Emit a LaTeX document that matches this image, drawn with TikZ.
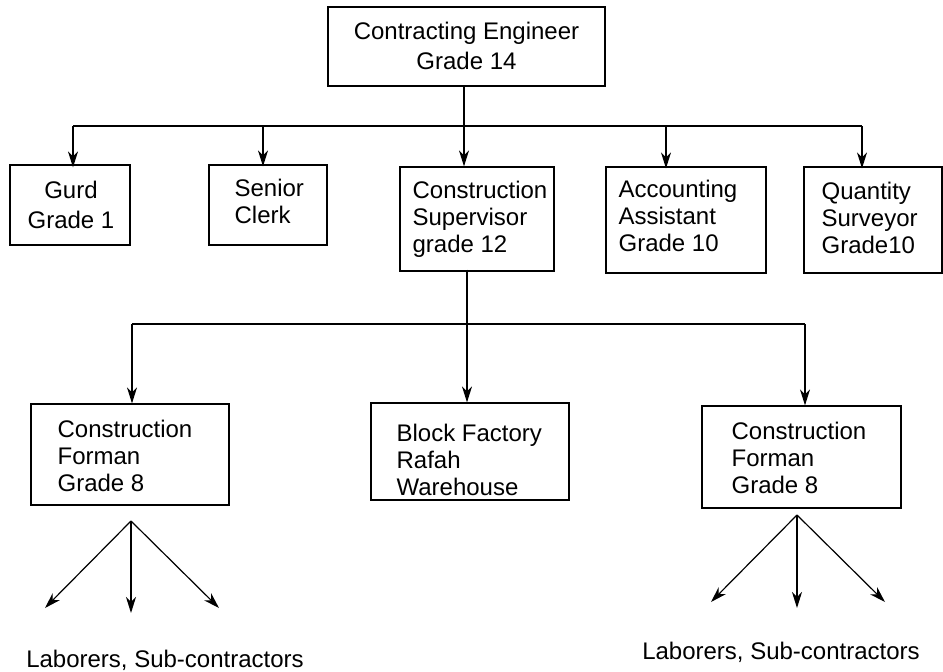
\documentclass[tikz,border=0pt]{standalone}
\usepackage{fontspec}
\setmainfont{Liberation Sans}
\usetikzlibrary{arrows.meta}
\begin{document}
\begin{tikzpicture}[x=1pt,y=-1pt,
  box/.style={draw, line width=1.2pt, inner sep=0pt},
  txt/.style={font=\fontsize{24}{27}\selectfont, align=left, inner sep=0pt, anchor=west},
  ctxt/.style={font=\fontsize{24}{30}\selectfont, align=center, inner sep=0pt},
  wire/.style={line width=1.2pt},
  arr/.style={line width=1.2pt, -{Stealth[length=16pt,width=10pt,inset=5pt]}}]
\useasboundingbox (0,0) rectangle (943,672);

% boxes
\node[box, minimum width=277pt, minimum height=79pt] (top) at (466.5,46.5) {};
\node[box, minimum width=120pt, minimum height=80pt] (gurd) at (70,205) {};
\node[box, minimum width=118pt, minimum height=80pt] (clerk) at (268,205) {};
\node[box, minimum width=154pt, minimum height=104pt] (sup) at (477,219) {};
\node[box, minimum width=160pt, minimum height=106pt] (acc) at (686,220) {};
\node[box, minimum width=138pt, minimum height=106pt] (qs) at (873,220) {};
\node[box, minimum width=198pt, minimum height=101pt] (forL) at (130,454.5) {};
\node[box, minimum width=198pt, minimum height=97pt] (block) at (470,451.5) {};
\node[box, minimum width=199pt, minimum height=102pt] (forR) at (801.5,457) {};

% texts
\node[ctxt] (topT) at ([yshift=1pt]top.center) {Contracting Engineer\\Grade 14};
\node[ctxt] (gurdT) at ([xshift=1pt]gurd.center) {Gurd\\Grade 1};
\node[txt] (clerkT) at ([xshift=26pt,yshift=4pt]clerk.west) {Senior\\Clerk};
\node[txt] (supT) at ([xshift=13pt]sup.west) {Construction\\Supervisor\\grade 12};
\node[txt] (accT) at ([xshift=13pt,yshift=4pt]acc.west) {Accounting\\Assistant\\Grade 10};
\node[txt] (qsT) at ([xshift=18pt,yshift=2pt]qs.west) {Quantity\\Surveyor\\Grade10};
\node[txt] (forLT) at ([xshift=27pt,yshift=-1pt]forL.west) {Construction\\Forman\\Grade 8};
\node[txt] (blockT) at ([xshift=26pt,yshift=-8pt]block.west) {Block Factory\\Rafah\\Warehouse};
\node[txt] (forRT) at ([xshift=30pt,yshift=-1pt]forR.west) {Construction\\Forman\\Grade 8};

\node[font=\fontsize{24}{27}\selectfont, inner sep=0pt] (labL) at (165,660) {Laborers, Sub-contractors};
\node[font=\fontsize{24}{27}\selectfont, inner sep=0pt] (labR) at (781,652) {Laborers, Sub-contractors};

% upper bus
\coordinate (b0) at (464,126);
\coordinate (bL) at (73,126);
\coordinate (bC) at (263,126);
\coordinate (bA) at (666,126);
\coordinate (bR) at (862,126);
\draw[wire] (top.south -| b0) -- (b0);
\draw[wire] (bL) -- (bR);
\draw[arr] (bL) -- ([yshift=-3pt]bL |- gurd.north);
\draw[arr] (bC) -- ([yshift=-2pt]bC |- clerk.north);
\draw[arr] (b0) -- (b0 |- sup.north);
\draw[arr] (bA) -- ([yshift=-2pt]bA |- acc.north);
\draw[arr] (bR) -- ([yshift=-2pt]bR |- qs.north);

% lower bus
\coordinate (m0) at (467,324);
\coordinate (mL) at (132,324);
\coordinate (mR) at (805,324);
\draw[wire] (mL) -- (mR);
\draw[arr] ([yshift=2pt]sup.south -| m0) -- (m0 |- block.north);
\draw[arr] (mL) -- (mL |- forL.north);
\draw[arr] (mR) -- (mR |- forR.north);

% fans
\coordinate (aL) at (131,521);
\coordinate (aL1) at (45,608);
\coordinate (aL2) at (131,613);
\coordinate (aL3) at (219,608);
\draw[arr] (aL) -- (aL1);
\draw[arr] (aL) -- (aL2);
\draw[arr] (aL) -- (aL3);
\coordinate (aR) at (797,515);
\coordinate (aR1) at (711,602);
\coordinate (aR2) at (797,608);
\coordinate (aR3) at (885,602);
\draw[arr] (aR) -- (aR1);
\draw[arr] (aR) -- (aR2);
\draw[arr] (aR) -- (aR3);
\end{tikzpicture}
\end{document}
